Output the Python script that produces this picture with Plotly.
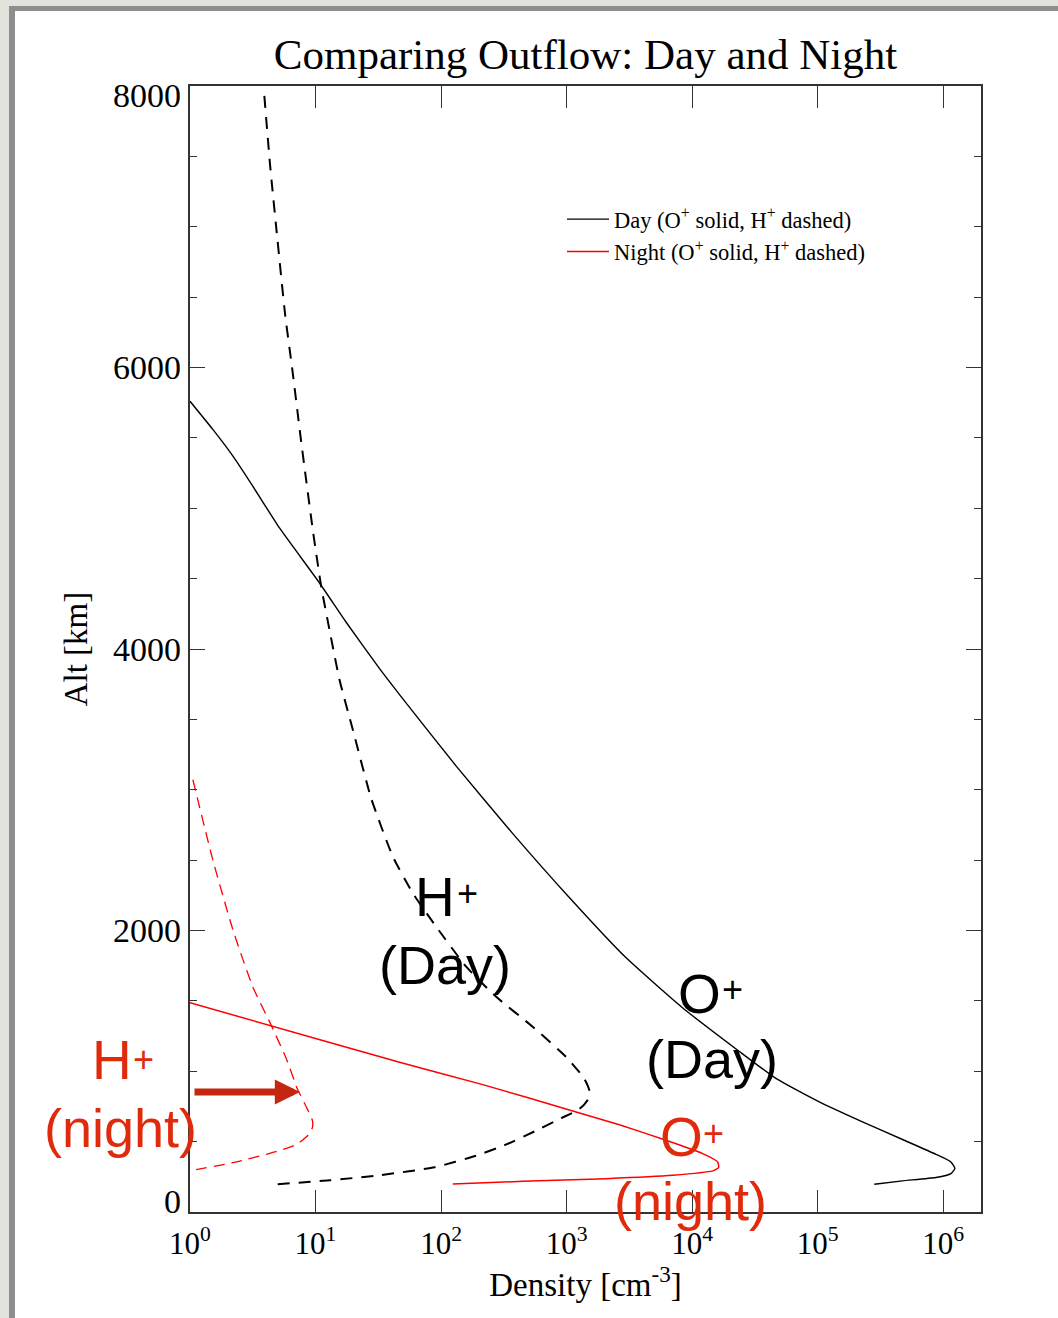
import math
import plotly.graph_objects as go

# ---------------- data ----------------
day_o_density = [1.0, 1.52, 2.198, 3.162, 5.164, 10.76, 17.54, 32.36, 46.67, 131.5,
                 369.8, 1042, 2938, 8279, 23330, 46450, 103000, 227500, 474200,
                 875000, 1151000, 1239000, 1151000, 875000, 474200, 282500]
day_o_alt = [5760, 5560, 5370, 5157, 4860, 4469, 4190, 3860, 3676, 3170,
             2692, 2238, 1811, 1455, 1146, 949, 782, 640, 515,
             410, 356, 309, 273, 245, 221, 197]

day_h_density = [3.91, 4.35, 4.91, 5.74, 6.49, 7.59, 8.17, 9.53, 11.09, 12.91, 15.52,
                 19.82, 27.73, 41.3, 59.6, 91.4, 158.5, 274.8, 537, 991, 1380, 1514,
                 1479, 1259, 912, 562, 331, 190.5, 89.1, 32.4, 12.9, 4.86]
day_h_alt = [7930, 7432, 6958, 6366, 6005, 5512, 5290, 4840, 4445, 4137, 3782,
             3426, 2940, 2525, 2265, 2027, 1743, 1529, 1316, 1102, 949, 866,
             800, 730, 668, 575, 480, 400, 318, 261, 225, 197]

night_o_density = [1.0, 10.0, 46.67, 214.8, 1119, 2630, 6194, 12130, 15960, 16260,
                   14550, 7000, 2061, 446.7, 123.9]
night_o_alt = [1487, 1233, 1064, 905, 718, 620, 510, 415, 356, 316,
               292, 261, 237, 218, 199]

night_h_density = [1.054, 1.52, 2.198, 3.162, 4.365, 5.916, 7.129, 8.511, 9.441, 9.441,
                   8.71, 7.079, 4.898, 2.188, 1.0]
night_h_alt = [3071, 2501, 2004, 1600, 1340, 1079, 880, 740, 650, 600,
               545, 480, 430, 350, 294]

x_tick_vals = [1, 10, 100, 1000, 10000, 100000, 1000000]
x_tick_text = ["10<sup>0</sup>", "10<sup>1</sup>", "10<sup>2</sup>", "10<sup>3</sup>",
               "10<sup>4</sup>", "10<sup>5</sup>", "10<sup>6</sup>"]
y_tick_vals = [0, 2000, 4000, 6000, 8000]
y_tick_text = ["0", "2000", "4000", "6000", "8000"]
x_max = 2.0e6
y_max = 8000

title_text = "Comparing Outflow: Day and Night"
x_title = "Density [cm<sup>-3</sup>]"
y_title = "Alt [km]"
legend_day = "Day (O<sup>+</sup> solid, H<sup>+</sup> dashed)"
legend_night = "Night (O<sup>+</sup> solid, H<sup>+</sup> dashed)"

# ---------------- layout geometry ----------------
W, H = 1058, 1318
L, R, T, B = 190, 981, 86, 1212  # plot area in pixels


def px(xpix):
    return (xpix - L) / (R - L)


def py(ypix):
    return (B - ypix) / (B - T)


SERIF = "Liberation Serif"
SANS = "Liberation Sans"
AX = "#333333"
TXT_RED = "#e02a0c"
ARROW_RED = "#c4260f"

fig = go.Figure()
fig.add_trace(go.Scatter(x=day_o_density, y=day_o_alt, mode="lines", name=legend_day,
                         line=dict(color="black", width=1.4, shape="spline", smoothing=0.5)))
fig.add_trace(go.Scatter(x=night_o_density, y=night_o_alt, mode="lines", name=legend_night,
                         line=dict(color="#ff0000", width=1.5, shape="spline", smoothing=0.5)))
fig.add_trace(go.Scatter(x=day_h_density, y=day_h_alt, mode="lines", showlegend=False,
                         line=dict(color="black", width=2, dash="12px,9px", shape="spline", smoothing=0.5)))
fig.add_trace(go.Scatter(x=night_h_density, y=night_h_alt, mode="lines", showlegend=False,
                         line=dict(color="#ff0000", width=1.3, dash="11px,7px", shape="spline", smoothing=0.5)))

# slide border (grey frame on top and left)
shapes = [
    dict(type="rect", xref="paper", yref="paper", x0=px(0), x1=px(W), y0=py(0), y1=py(6),
         fillcolor="#e3e3de", line=dict(width=0), layer="below"),
    dict(type="rect", xref="paper", yref="paper", x0=px(0), x1=px(9), y0=py(0), y1=py(H),
         fillcolor="#e3e3de", line=dict(width=0), layer="below"),
    dict(type="rect", xref="paper", yref="paper", x0=px(9), x1=px(W), y0=py(6), y1=py(11),
         fillcolor="#8c8e90", line=dict(width=0), layer="below"),
    dict(type="rect", xref="paper", yref="paper", x0=px(9), x1=px(15), y0=py(6), y1=py(H),
         fillcolor="#8c8e90", line=dict(width=0), layer="below"),
]

annotations = []

# y tick labels (end labels nudged inward, as in the reference)
for v, t in zip(y_tick_vals, y_tick_text):
    shift = 0
    if v == y_tick_vals[0]:
        shift = 11
    elif v == y_tick_vals[-1]:
        shift = -9
    annotations.append(dict(text=t, xref="paper", yref="y", x=0, y=v, xanchor="right",
                            yanchor="middle", xshift=-7, yshift=shift, showarrow=False,
                            font=dict(family=SERIF, size=34, color="black")))


def label(text, xpix, ypix, color, size):
    annotations.append(dict(text=text, xref="paper", yref="paper", x=px(xpix), y=py(ypix),
                            xanchor="center", yanchor="middle", showarrow=False,
                            font=dict(family=SANS, size=size, color=color)))


# H+ (Day)
label("H", 434.5, 897, "black", 55)
label("+", 467, 893, "black", 36)
label("(Day)", 444.5, 965, "black", 54)
# O+ (Day)
label("O", 699, 994, "black", 55)
label("+", 732, 990, "black", 36)
label("(Day)", 711.5, 1059, "black", 54)
# H+ (night)
label("H", 111.5, 1060, TXT_RED, 55)
label("+", 143.5, 1059, TXT_RED, 36)
label("(night)", 120, 1128, TXT_RED, 54)
# O+ (night)
label("O", 681, 1137, TXT_RED, 55)
label("+", 713, 1133, TXT_RED, 36)
label("(night)", 690.5, 1201, TXT_RED, 54)

# arrow pointing at the night H+ curve
annotations.append(dict(text="", xref="paper", yref="paper", x=px(300), y=py(1092),
                        ax=-107, ay=0, axref="pixel", ayref="pixel", showarrow=True,
                        arrowhead=2, arrowsize=0.72, arrowwidth=7, arrowcolor=ARROW_RED,
                        standoff=0, startstandoff=0))

fig.update_layout(
    width=W, height=H,
    margin=dict(l=L, r=W - R, t=T, b=H - B, pad=0),
    paper_bgcolor="white", plot_bgcolor="white",
    title=dict(text=title_text, x=0.5, xref="paper", xanchor="center",
               y=1 - 54 / H, yref="container", yanchor="middle",
               font=dict(family=SERIF, size=43, color="black")),
    showlegend=True,
    legend=dict(x=px(562), y=py(198), xanchor="left", yanchor="top",
                bgcolor="rgba(0,0,0,0)", borderwidth=0, itemwidth=42,
                font=dict(family=SERIF, size=22.5, color="black"),
                tracegroupgap=0),
    shapes=shapes,
    annotations=annotations,
)

fig.update_xaxes(
    type="log", range=[0, math.log10(x_max)],
    tickvals=x_tick_vals, ticktext=x_tick_text,
    ticks="inside", ticklen=22, tickwidth=1.2, tickcolor=AX,
    showline=True, linecolor=AX, linewidth=1.5, mirror="ticks",
    showgrid=False, zeroline=False,
    tickfont=dict(family=SERIF, size=31, color="black"),
    ticklabelstandoff=3,
    title=dict(text=x_title, font=dict(family=SERIF, size=33, color="black"), standoff=0),
)
fig.update_yaxes(
    range=[0, y_max], tickvals=y_tick_vals, showticklabels=False,
    ticks="inside", ticklen=15, tickwidth=1.2, tickcolor=AX,
    minor=dict(dtick=500, tick0=0, ticks="inside", ticklen=7, tickwidth=1.2,
               tickcolor=AX, showgrid=False),
    showline=True, linecolor=AX, linewidth=1.5, mirror="ticks",
    showgrid=False, zeroline=False,
    title=dict(text=y_title, font=dict(family=SERIF, size=33, color="black"), standoff=91),
)

fig.write_html("out.html")
